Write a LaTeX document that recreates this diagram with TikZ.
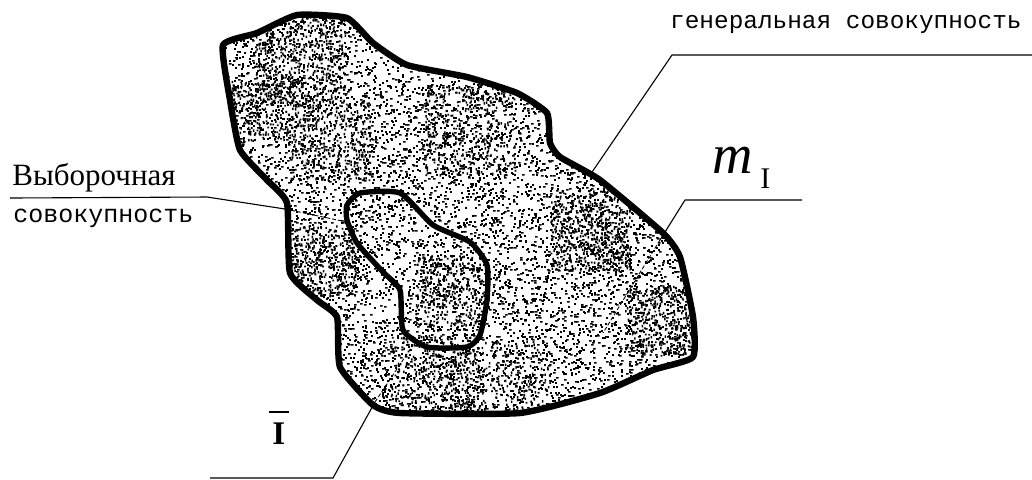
\documentclass[tikz,border=0pt]{standalone}
\usepackage{fontspec}
\setmainfont{Liberation Serif}
\newfontfamily\monof{Liberation Mono}
\begin{document}
\begin{tikzpicture}[x=0.5pt,y=-0.5pt,
  outline/.style={line width=3.2pt,line join=round},
  inline/.style={line width=2.7pt,line join=round},
  leader/.style={line width=0.55pt},
  leaderin/.style={line width=0.45pt,dash pattern=on 2pt off 1pt},
  lbl/.style={inner sep=0pt,anchor=base west}]
\useasboundingbox (0,0) rectangle (1032,479);
\def\outerblob{plot[smooth cycle,tension=0.3] coordinates {(223,45) (257,33) (297,15) (347,18) (373,43) (407,65) (467,77) (517,93) (547,113) (550,143) (560,157) (600,180) (663,233) (680,257) (693,317) (693,357) (653,370) (600,393) (520,413) (400,413) (373,405) (340,367) (337,317) (317,300) (290,273) (287,203) (267,180) (240,150) (230,100)}}
\def\innerblob{plot[smooth cycle,tension=0.35] coordinates {(347,205) (360,193) (400,193) (433,225) (470,242) (487,265) (487,300) (480,335) (467,347) (427,347) (403,330) (400,290) (383,272) (357,243) (347,220)}}
% stipple
\begin{scope}
\clip \outerblob;
\pgfmathsetseed{7}
\foreach \i in {1,...,3200}{
  \pgfmathrandominteger{\ax}{222}{694}\pgfmathrandominteger{\ay}{14}{414}
  \pgfmathrandominteger{\bx}{222}{694}\pgfmathrandominteger{\by}{14}{414}
  \pgfmathrandominteger{\cx}{222}{694}\pgfmathrandominteger{\cy}{14}{414}
  \fill (\ax,\ay) rectangle ++(1.8,1.8) (\bx,\by) rectangle ++(1.8,1.8) (\cx,\cy) rectangle ++(2.6,1.5);
}
\foreach \qx/\qy/\r/\n in {300/60/45/300,330/140/40/200,470/130/45/220,590/230/40/300,660/320/35/200,320/260/35/220,450/290/35/170,500/390/50/220,430/375/40/170,260/110/30/120}{
  \foreach \i in {1,...,\n}{
    \pgfmathsetmacro{\ax}{\qx+\r*rand}\pgfmathsetmacro{\ay}{\qy+\r*rand}
    \pgfmathsetmacro{\bx}{\qx+\r*rand}\pgfmathsetmacro{\by}{\qy+\r*rand}
    \fill (\ax,\ay) rectangle ++(1.8,1.8) (\bx,\by) rectangle ++(1.5,2.4);
  }
}
\end{scope}
\draw[outline] \outerblob;
\draw[inline] \innerblob;
% labels
\node[inner sep=0pt,anchor=base east,font=\monof\fontsize{12.2}{14}\selectfont] (gen) at (1022,28) {генеральная совокупность};
\node[lbl,font=\fontsize{15.5}{17}\selectfont] (vyb) at (12,185) {Выборочная};
\node[lbl,font=\monof\fontsize{12.5}{14}\selectfont] (sov) at (13,222) {совокупность};
\node[lbl,font=\itshape\fontsize{28}{30}\selectfont] (m) at (712,173) {m};
\node[lbl,font=\fontsize{15}{17}\selectfont] (msub) at (760,188) {I};
\node[lbl,font=\bfseries\fontsize{16.5}{18}\selectfont] (ibar) at (272,444) {I};
\draw[line width=1pt] ([xshift=-1.5pt,yshift=5pt]ibar.north west) -- ([xshift=1.5pt,yshift=5pt]ibar.north east);
% leader coordinates
\coordinate (g1) at (1032,55); \coordinate (g2) at (672,55); \coordinate (g3) at (590,175);
\coordinate (m1) at (802,200); \coordinate (m2) at (685,200); \coordinate (m3) at (660,240); \coordinate (m4) at (603,333);
\coordinate (v1) at (10,198); \coordinate (v2) at (207,197); \coordinate (v3) at (285,209); \coordinate (v4) at (347,222);
\coordinate (b1) at (210,478); \coordinate (b2) at (333,478); \coordinate (b3) at (375,402); \coordinate (b4) at (413,345);
\draw[leader] (g1) -- (g2) -- (g3);
\draw[leader] (m1) -- (m2) -- (m3);
\draw[leaderin] (m3) -- (m4);
\draw[leader] (v1) -- (v2) -- (v3);
\draw[leaderin] (v3) -- (v4);
\draw[leader] (b1) -- (b2) -- (b3);
\draw[leaderin] (b3) -- (b4);
\end{tikzpicture}
\end{document}
